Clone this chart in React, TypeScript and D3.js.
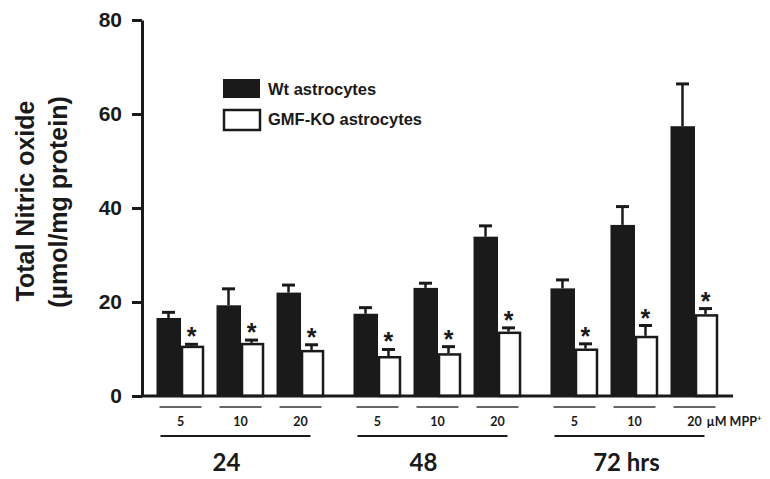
import React, { useRef, useEffect } from "react";
import { select, scaleLinear, scaleBand, axisLeft } from "d3";

// time points (hrs) and MPP+ doses (µM)
const times = ["24", "48", "72"];
const doses = ["5", "10", "20"];
const series = ["wt", "ko"];

// means and upper error, ordered time-major (24h: 5,10,20 / 48h ... / 72h ...)
const wtMean = [16.6, 19.3, 22.0, 17.5, 23.0, 33.9, 22.9, 36.4, 57.4];
const wtErr = [1.2, 3.5, 1.6, 1.3, 1.0, 2.3, 1.8, 3.9, 9.0];
const koMean = [10.7, 11.3, 9.8, 8.5, 9.1, 13.7, 10.1, 12.8, 17.4];
const koErr = [0.3, 0.6, 1.1, 1.4, 1.4, 0.8, 1.0, 2.2, 1.2];

const yTicks = [0, 20, 40, 60, 80];
const legendLabels = ["Wt astrocytes", "GMF-KO astrocytes"];
const timeLabels = ["24", "48", "72 hrs"];

const W = 770;
const H = 479;
const axisX = 142;
const baseY = 396;
const ink = "#1a1a1a";
const sans = "Arial, 'Liberation Sans', sans-serif";
const cal = "Lato, 'Open Sans', sans-serif";

const App = () => {
  const yAxisRef = useRef<SVGGElement>(null);

  const y = scaleLinear().domain([0, 80]).range([baseY, 20]);
  const xTime = scaleBand()
    .domain(times)
    .range([axisX, 733])
    .paddingInner(0.147)
    .paddingOuter(0.0736);
  const xDose = scaleBand()
    .domain(doses)
    .range([0, xTime.bandwidth()])
    .paddingInner(0.2)
    .paddingOuter(0);
  const xSer = scaleBand().domain(series).range([0, xDose.bandwidth()]);

  useEffect(() => {
    const g = select(yAxisRef.current);
    g.call(
      axisLeft(y)
        .tickValues(yTicks)
        .tickSize(10)
        .tickSizeOuter(0)
        .tickPadding(10)
    );
    g.select(".domain").attr("stroke", ink).attr("stroke-width", 3);
    g.selectAll(".tick line").attr("stroke", ink).attr("stroke-width", 3);
    g.selectAll(".tick text")
      .attr("fill", ink)
      .style("font-family", sans)
      .style("font-weight", "bold")
      .style("font-size", "21px");
  }, []);

  const groups = [];
  times.forEach((t, ti) => {
    doses.forEach((d, di) => {
      const i = ti * doses.length + di;
      groups.push({ t, d, i, x0: (xTime(t) as number) + (xDose(d) as number) });
    });
  });

  const bw = xSer.bandwidth();
  const capW = 13;

  return (
    <svg
      width={W}
      height={H}
      style={{ position: "absolute", left: 0, top: 0, background: "#fff" }}
    >
      {/* y axis title */}
      <g
        fontFamily={sans}
        fontWeight="bold"
        fontSize={25}
        fill={ink}
        textAnchor="middle"
      >
        <text transform={`translate(34,201) rotate(-90)`}>Total Nitric oxide</text>
        <text transform={`translate(67,202) rotate(-90)`}>(µmol/mg protein)</text>
      </g>

      {/* bars */}
      {groups.map(({ i, x0 }) => {
        const xw = x0 + (xSer("wt") as number);
        const xk = x0 + (xSer("ko") as number);
        const wtTop = y(wtMean[i]);
        const wtCap = y(wtMean[i] + wtErr[i]);
        const koTop = y(koMean[i]);
        const koCap = y(koMean[i] + koErr[i]);
        const cw = xw + bw / 2;
        const ck = xk + bw / 2 - 1;
        return (
          <g key={i}>
            <line x1={cw} x2={cw} y1={wtTop} y2={wtCap} stroke={ink} strokeWidth={2.5} />
            <line x1={cw - capW / 2} x2={cw + capW / 2} y1={wtCap} y2={wtCap} stroke={ink} strokeWidth={3} />
            <rect x={xw} y={wtTop} width={bw + 0.5} height={baseY - wtTop} fill={ink} />
            <line x1={ck} x2={ck} y1={koTop} y2={koCap} stroke={ink} strokeWidth={2.5} />
            <line x1={ck - capW / 2} x2={ck + capW / 2} y1={koCap} y2={koCap} stroke={ink} strokeWidth={3} />
            <rect
              x={xk + 1.5}
              y={koTop + 1.2}
              width={bw - 3}
              height={baseY - koTop - 1.2}
              fill="#fff"
              stroke={ink}
              strokeWidth={2.5}
            />
            <text
              x={ck}
              y={koCap + 1}
              textAnchor="middle"
              fontFamily={sans}
              fontWeight="bold"
              fontSize={25}
              fill={ink}
            >
              *
            </text>
          </g>
        );
      })}

      {/* x baseline */}
      <line x1={axisX} x2={733} y1={baseY} y2={baseY} stroke={ink} strokeWidth={3} />
      <g ref={yAxisRef} transform={`translate(${axisX},0)`} />

      {/* dose labels */}
      {groups.map(({ d, i, x0 }) => {
        const c = x0 + xDose.bandwidth() / 2;
        return (
          <g key={"d" + i}>
            <line x1={c - 21} x2={c + 21} y1={407} y2={407} stroke="#333" strokeWidth={1.5} />
            <text
              x={c}
              y={426}
              textAnchor="middle"
              fontFamily={cal}
              fontWeight="bold"
              fontSize={12.5}
              fill={ink}
            >
              {d}
            </text>
          </g>
        );
      })}
      {(() => {
        const last = groups[groups.length - 1];
        const c = last.x0 + xDose.bandwidth() / 2;
        return (
          <text x={c + 12} y={426} fontFamily={cal} fontWeight="bold" fontSize={12.5} fill={ink}>
            µM MPP<tspan fontSize={8} dy={-5}>+</tspan>
          </text>
        );
      })()}

      {/* time labels */}
      {times.map((t, ti) => {
        const gx = xTime(t) as number;
        return (
          <g key={"t" + t}>
            <line x1={gx + 4} x2={gx + 154} y1={436} y2={436} stroke={ink} strokeWidth={2} />
            <text
              x={ti === 2 ? gx + 76 : gx + 70}
              y={471}
              textAnchor="middle"
              fontFamily={cal}
              fontWeight="bold"
              fontSize={24}
              fill={ink}
            >
              {timeLabels[ti]}
            </text>
          </g>
        );
      })}

      {/* legend */}
      <g fontFamily={sans} fontWeight="bold" fontSize={16.5} fill={ink}>
        <rect x={223} y={79} width={37} height={19} fill={ink} />
        <text x={268} y={95}>{legendLabels[0]}</text>
        <rect x={224} y={110} width={36} height={20} fill="#fff" stroke={ink} strokeWidth={2.5} />
        <text x={268} y={125}>{legendLabels[1]}</text>
      </g>
    </svg>
  );
};

export default App;
